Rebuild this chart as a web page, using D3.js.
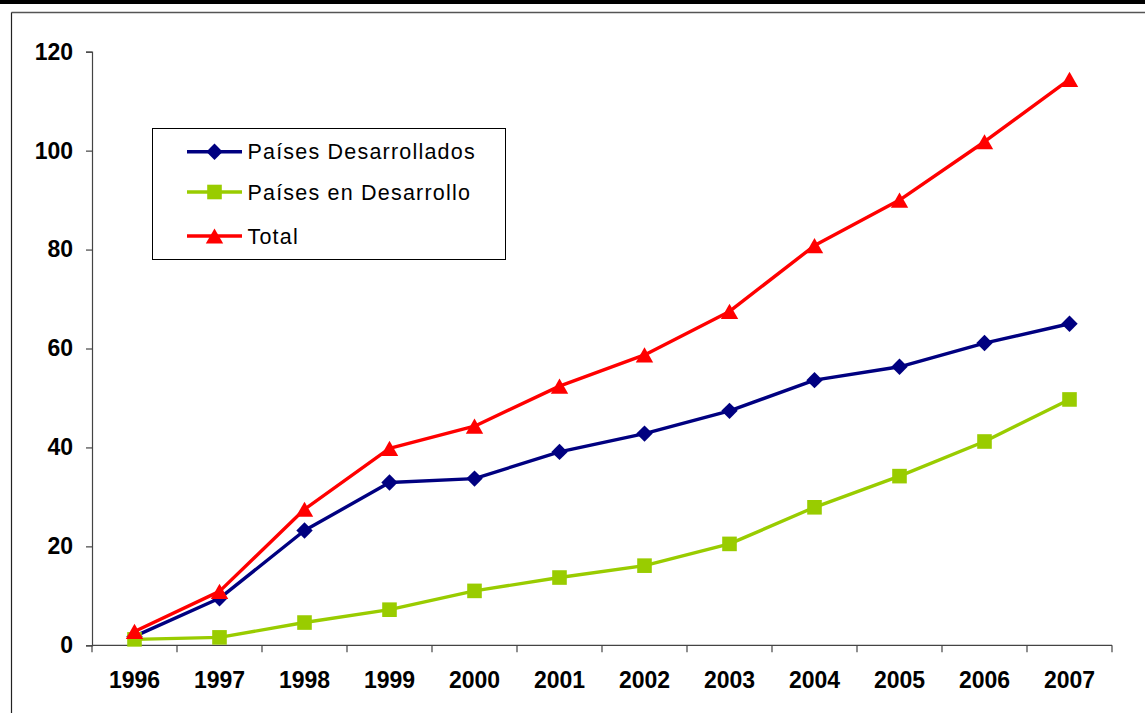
<!DOCTYPE html>
<html>
<head>
<meta charset="utf-8">
<script src="https://cdn.jsdelivr.net/npm/d3@7"></script>
<style>
  html, body { margin: 0; padding: 0; background: #fff; }
  svg { display: block; }
</style>
</head>
<body>
<script>
// Years on the horizontal axis
const years = ["1996","1997","1998","1999","2000","2001","2002","2003","2004","2005","2006","2007"];
// Series values
const desarrollados = [1.8, 9.5, 23.2, 32.9, 33.7, 39.1, 42.8, 47.4, 53.6, 56.3, 61.1, 65.0];
const enDesarrollo  = [1.2, 1.6, 4.6, 7.2, 11.0, 13.7, 16.1, 20.5, 27.9, 34.2, 41.2, 49.7];
const total         = [2.8, 10.9, 27.5, 39.8, 44.3, 52.4, 58.7, 67.5, 80.8, 90.0, 101.8, 114.4];
// Vertical axis ticks
const yTicks = [0, 20, 40, 60, 80, 100, 120];

// Marker shapes, drawn around (0,0)
const diamond = { draw(ctx) { const r = 8.2; ctx.moveTo(0, -r); ctx.lineTo(r, 0); ctx.lineTo(0, r); ctx.lineTo(-r, 0); ctx.closePath(); } };
const square  = { draw(ctx) { const h = 7.3; ctx.rect(-h, -h, 2 * h, 2 * h); } };
const triangle = { draw(ctx) { const w = 8.7, h = 7.6; ctx.moveTo(0, -h); ctx.lineTo(w, h); ctx.lineTo(-w, h); ctx.closePath(); } };

const series = [
  { name: "Países Desarrollados", values: desarrollados, color: "#000080", symbol: diamond },
  { name: "Países en Desarrollo", values: enDesarrollo, color: "#99CC00", symbol: square },
  { name: "Total", values: total, color: "#FF0000", symbol: triangle }
];

const W = 1145, H = 713;
const svg = d3.select("body").append("svg").attr("width", W).attr("height", H);

// Page frame: black band on top, thin frame lines around the chart area
svg.append("rect").attr("x", 0).attr("y", 0).attr("width", W).attr("height", 4).attr("fill", "#000");
svg.append("line").attr("x1", 11.5).attr("x2", W).attr("y1", 12.5).attr("y2", 12.5)
  .attr("stroke", "#555").attr("stroke-width", 1.5);
svg.append("line").attr("x1", 11.5).attr("x2", 11.5).attr("y1", 12.5).attr("y2", H)
  .attr("stroke", "#222").attr("stroke-width", 1.2);

const plot = { left: 92, right: 1112, top: 51.7, bottom: 645.3 };

const x = d3.scaleBand().domain(years).range([plot.left, plot.right]);
const y = d3.scaleLinear().domain([0, 120]).range([plot.bottom, plot.top]);

const font = "Liberation Sans, Arial, Helvetica, sans-serif";

// Y axis
const yAxis = svg.append("g").attr("transform", `translate(${plot.left},0)`)
  .call(d3.axisLeft(y).tickValues(yTicks).tickSize(6).tickPadding(13).tickFormat(d3.format("d")));
yAxis.select(".domain").attr("stroke", "#444").attr("stroke-width", 1.2);
yAxis.selectAll(".tick line").attr("stroke", "#444").attr("stroke-width", 1.2);
yAxis.selectAll(".tick text").attr("font-family", font).attr("font-size", "23px")
  .attr("font-weight", "bold").attr("fill", "#000");

// X axis: ticks between categories
const xAxisG = svg.append("g").attr("transform", `translate(0,${plot.bottom})`);
xAxisG.append("line").attr("x1", plot.left).attr("x2", plot.right).attr("y1", 0).attr("y2", 0)
  .attr("stroke", "#444").attr("stroke-width", 1.2);
const boundaries = years.map(yr => x(yr)).concat([x(years[years.length - 1]) + x.bandwidth()]);
xAxisG.selectAll("line.tk").data(boundaries).enter().append("line").attr("class", "tk")
  .attr("x1", d => d).attr("x2", d => d).attr("y1", 0).attr("y2", 7)
  .attr("stroke", "#444").attr("stroke-width", 1.2);
xAxisG.selectAll("text").data(years).enter().append("text")
  .attr("x", d => x(d) + x.bandwidth() / 2).attr("y", 42.5)
  .attr("text-anchor", "middle").attr("font-family", font).attr("font-size", "23px")
  .attr("font-weight", "bold").attr("fill", "#000").text(d => d);

const cx = i => x(years[i]) + x.bandwidth() / 2;
const line = d3.line().x((d, i) => cx(i)).y(d => y(d));
const symbolPath = sym => d3.symbol().type(sym)();

// Lines and markers
series.forEach(s => {
  const g = svg.append("g");
  g.append("path").datum(s.values).attr("d", line).attr("fill", "none")
    .attr("stroke", s.color).attr("stroke-width", 3.4).attr("stroke-linejoin", "round");
  g.selectAll("path.m").data(s.values).enter().append("path").attr("class", "m")
    .attr("d", symbolPath(s.symbol))
    .attr("transform", (d, i) => `translate(${cx(i)},${y(d)})`)
    .attr("fill", s.color);
});

// Legend
const lg = svg.append("g");
lg.append("rect").attr("x", 152.5).attr("y", 128.5).attr("width", 353).attr("height", 131)
  .attr("fill", "#fff").attr("stroke", "#000").attr("stroke-width", 1);
const legY = [151.7, 192, 236];
series.forEach((s, i) => {
  lg.append("line").attr("x1", 187).attr("x2", 242).attr("y1", legY[i]).attr("y2", legY[i])
    .attr("stroke", s.color).attr("stroke-width", 3.4);
  lg.append("path").attr("d", symbolPath(s.symbol))
    .attr("transform", `translate(214.5,${legY[i]})`).attr("fill", s.color);
  lg.append("text").attr("x", 247.5).attr("y", legY[i]).attr("dy", "0.35em")
    .attr("font-family", font).attr("font-size", "21.5px").attr("letter-spacing", "1.2px")
    .attr("fill", "#000").text(s.name);
});
</script>
</body>
</html>
